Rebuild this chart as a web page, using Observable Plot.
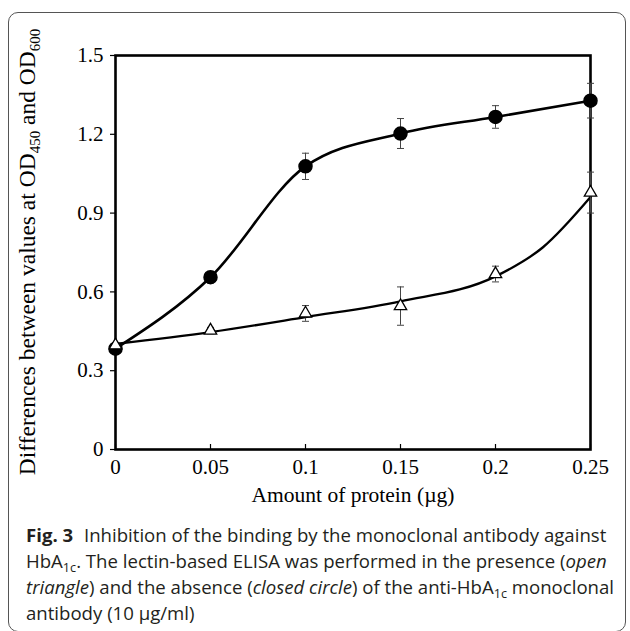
<!DOCTYPE html>
<html>
<head>
<meta charset="utf-8">
<script src="https://cdn.jsdelivr.net/npm/d3@7"></script>
<script src="https://cdn.jsdelivr.net/npm/@observablehq/plot@0.6"></script>
<style>
  html, body { margin: 0; padding: 0; background: white; }
  #page { position: relative; width: 630px; height: 631px; overflow: hidden; background: white; }
  #border { position: absolute; left: 8px; top: 12px; width: 618px; height: 620px; border: 1.2px solid #555; border-radius: 10px; box-sizing: border-box; }
  #chart { position: absolute; left: 0; top: 0; }
  #caption { position: absolute; left: 26px; top: 522px; font-family: "Open Sans", sans-serif; font-size: 18.6px; letter-spacing: 0px; word-spacing: 0px; line-height: 26px; color: #231f20; white-space: nowrap; }
  #caption b { font-weight: 700; margin-right: 6px; }
  #caption sub { font-size: 68%; vertical-align: -0.3em; line-height: 0; }
</style>
</head>
<body>
<div id="page">
  <div id="border"></div>
  <div id="chart"></div>
  <div id="caption">
    <b>Fig. 3</b> Inhibition of the binding by the monoclonal antibody against<br>
    HbA<sub>1c</sub>. The lectin-based ELISA was performed in the presence (<i>open</i><br>
    <i>triangle</i>) and the absence (<i>closed circle</i>) of the anti-HbA<sub>1c</sub> monoclonal<br>
    antibody (10 µg/ml)
  </div>
</div>
<script>
// Data
const amounts = [0, 0.05, 0.1, 0.15, 0.2, 0.25];                 // µg protein
const closedCircle = [0.384, 0.656, 1.078, 1.203, 1.266, 1.328]; // absence of antibody
const closedCircleErr = [0.01, 0.022, 0.05, 0.057, 0.043, 0.066];
const openTriangle = [0.397, 0.453, 0.518, 0.546, 0.668, 0.978]; // presence of antibody
const openTriangleErr = [0.01, 0.012, 0.03, 0.073, 0.03, 0.078];
// Fitted trend curve for the open triangles
const triangleFitX = [0, 0.05, 0.1, 0.15, 0.2, 0.225, 0.25];
const triangleFitY = [0.402, 0.447, 0.504, 0.564, 0.659, 0.77, 0.961];
const xTicks = [0, 0.05, 0.1, 0.15, 0.2, 0.25];
const yTicks = [0, 0.3, 0.6, 0.9, 1.2, 1.5];
const xLabel = "Amount of protein (µg)";

const closed = amounts.map((x, i) => ({x, y: closedCircle[i], lo: closedCircle[i] - closedCircleErr[i], hi: closedCircle[i] + closedCircleErr[i]}));
const open = amounts.map((x, i) => ({x, y: openTriangle[i], lo: openTriangle[i] - openTriangleErr[i], hi: openTriangle[i] + openTriangleErr[i]}));
const openFit = triangleFitX.map((x, i) => ({x, y: triangleFitY[i]}));
const errs = closed.concat(open);

const capSymbol = {
  draw(context, size) {
    const w = Math.sqrt(size / Math.PI);
    context.moveTo(-w, 0);
    context.lineTo(w, 0);
  }
};

const plot = Plot.plot({
  width: 630,
  height: 515,
  marginLeft: 115,
  marginRight: 40,
  marginTop: 55,
  marginBottom: 66,
  x: {domain: [0, 0.25]},
  y: {domain: [0, 1.5]},
  style: {fontFamily: "'Liberation Serif', 'Times New Roman', serif", fontSize: "21px", color: "black", background: "transparent"},
  marks: [
    Plot.axisY(yTicks, {tickSize: 5, tickPadding: 7, strokeWidth: 1.2, tickFormat: d => String(d), label: null}),
    Plot.axisX(xTicks, {tickSize: 5, dy: -5, fill: "none", strokeWidth: 1.2, label: null}),
    Plot.axisX(xTicks, {tickSize: 0, tickPadding: 10, tickFormat: d => String(d), label: null}),
    Plot.frame({stroke: "black", strokeWidth: 2.6}),
    Plot.line(closed, {x: "x", y: "y", curve: "monotone-x", stroke: "black", strokeWidth: 2.6}),
    Plot.line(openFit, {x: "x", y: "y", curve: "monotone-x", stroke: "black", strokeWidth: 2.3}),
    Plot.ruleX(errs, {x: "x", y1: "lo", y2: "hi", stroke: "#444", strokeWidth: 1}),
    Plot.dot(errs, {x: "x", y: "hi", symbol: capSymbol, r: 3.5, stroke: "#444", strokeWidth: 1}),
    Plot.dot(errs, {x: "x", y: "lo", symbol: capSymbol, r: 3.5, stroke: "#444", strokeWidth: 1}),
    Plot.dot(closed, {x: "x", y: "y", r: 6.5, fill: "black", stroke: "black"}),
    Plot.dot(open, {x: "x", y: "y", symbol: "triangle", r: 4.6, fill: "white", stroke: "black", strokeWidth: 1.3}),
    Plot.text([xLabel], {frameAnchor: "bottom", dy: 46, fontSize: 21.5, lineAnchor: "middle", fill: "black"})
  ]
});

document.getElementById("chart").appendChild(plot);

// Y-axis label with subscripts
const ys = plot.scale("y").range;
const cy = (ys[0] + ys[1]) / 2;
const lab = d3.select(plot).append("text")
  .attr("transform", `translate(35,${cy}) rotate(-90)`)
  .attr("text-anchor", "middle")
  .attr("font-family", "'Liberation Serif', 'Times New Roman', serif")
  .attr("font-size", 23.5)
  .attr("fill", "black");
lab.append("tspan").text("Differences between values at OD");
lab.append("tspan").attr("font-size", 15).attr("dy", 5).text("450");
lab.append("tspan").attr("dy", -5).text(" and OD");
lab.append("tspan").attr("font-size", 15).attr("dy", 5).text("600");
</script>
</body>
</html>
